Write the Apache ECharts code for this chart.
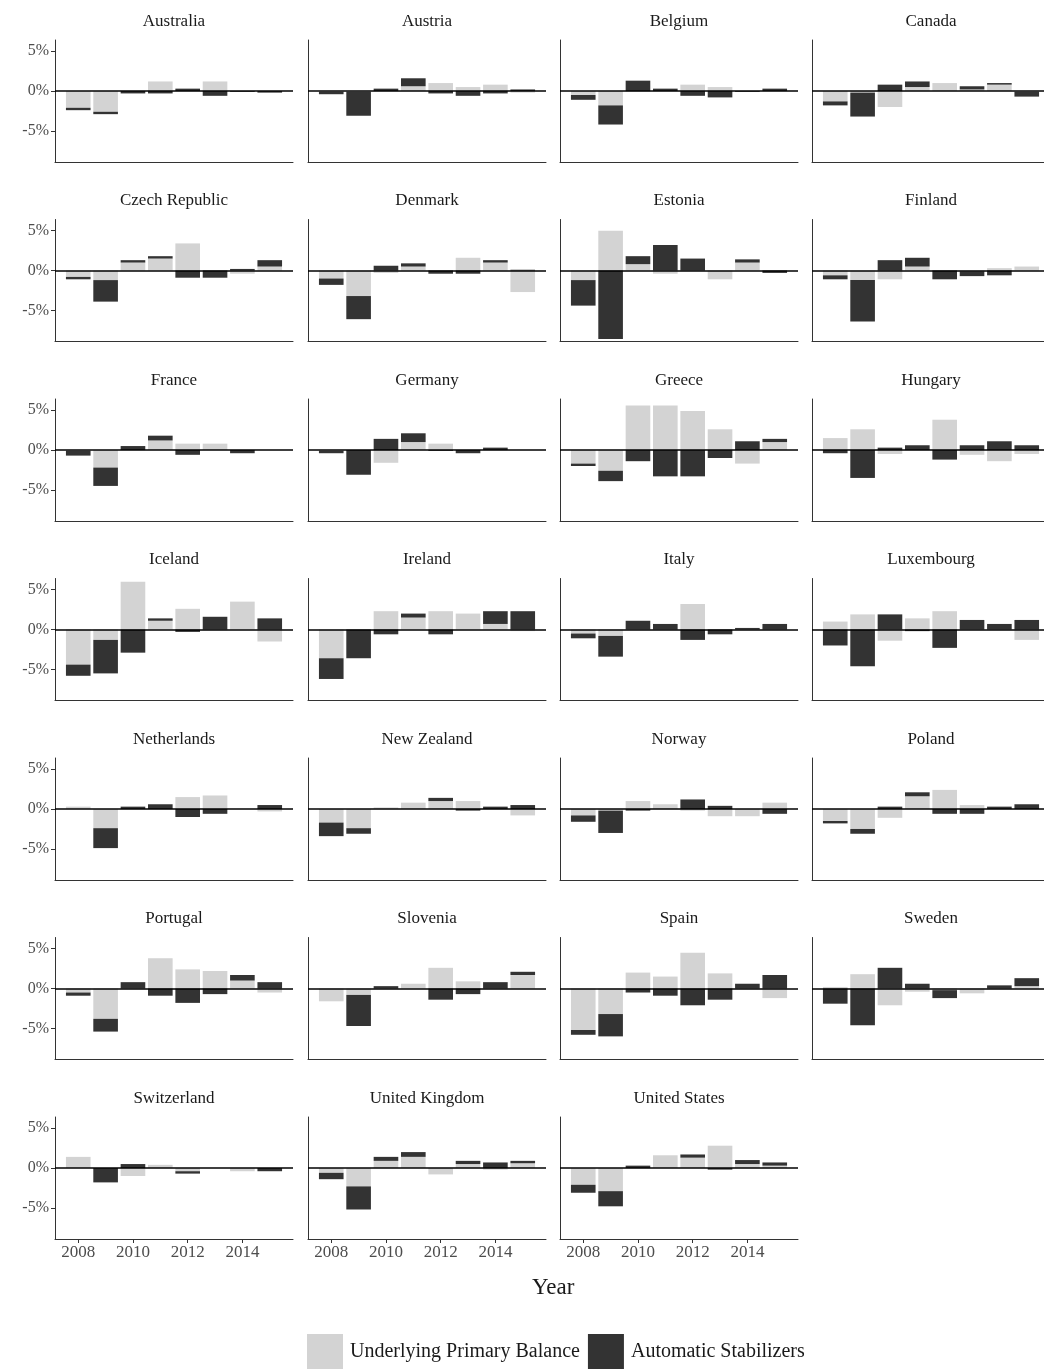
<!DOCTYPE html>
<html>
<head>
<meta charset="utf-8">
<script src="https://cdn.jsdelivr.net/npm/echarts@6/dist/echarts.min.js"></script>
<style>
    html, body { margin: 0; padding: 0; background: #fff; }
    #chart { width: 1044px; height: 1369px; }
</style>
</head>
<body>
<div id="chart"></div>
<script>
const years = [2008, 2009, 2010, 2011, 2012, 2013, 2014, 2015]
const xTicks = [2008, 2010, 2012, 2014]
const yTicks = [-5, 0, 5]

const countries = [
    "Australia", "Austria", "Belgium", "Canada",
    "Czech Republic", "Denmark", "Estonia", "Finland",
    "France", "Germany", "Greece", "Hungary",
    "Iceland", "Ireland", "Italy", "Luxembourg",
    "Netherlands", "New Zealand", "Norway", "Poland",
    "Portugal", "Slovenia", "Spain", "Sweden",
    "Switzerland", "United Kingdom", "United States",
]

// underlying primary balance, % of GDP
const underlying = [
    [-2.1, -2.6, 0, 1.2, 0, 1.2, 0, 0],
    [-0.1, -0.1, 0, 0.6, 1.0, 0.5, 0.8, -0.2],
    [-0.5, -1.8, -0.1, 0, 0.8, 0.5, 0, 0],
    [-1.3, -0.2, -2.0, 0.5, 1.0, 0.2, 0.8, -0.1],
    [-0.8, -1.2, 1.0, 1.5, 3.4, 0, -0.4, 0.5],
    [-1.0, -3.2, -0.3, 0.5, 0, 1.6, 1.0, -2.7],
    [-1.2, 5.0, 0.8, -0.4, 0, -1.1, 1.0, 0],
    [-0.6, -1.2, -1.1, 0.5, 0, -0.1, 0.3, 0.5],
    [-0.1, -2.2, 0, 1.2, 0.8, 0.8, 0, 0],
    [-0.1, 0, -1.6, 1.0, 0.8, 0, 0, 0],
    [-1.7, -2.6, 5.6, 5.6, 4.9, 2.6, -1.7, 1.0],
    [1.5, 2.6, -0.5, 0, 3.8, -0.6, -1.4, -0.5],
    [-4.4, -1.3, 6.0, 1.1, 2.6, -0.1, 3.5, -1.5],
    [-3.6, 0, 2.3, 1.5, 2.3, 2.0, 0.7, -0.2],
    [-0.5, -0.8, 0, 0, 3.2, 0, 0, 0],
    [1.0, 1.9, -1.4, 1.4, 2.3, 0, 0, -1.3],
    [0.3, -2.4, 0, 0, 1.5, 1.7, 0, -0.3],
    [-1.7, -2.4, 0.2, 0.8, 1.0, 1.0, 0, -0.8],
    [-0.8, -0.2, 1.0, 0.6, -0.2, -0.9, -0.9, 0.8],
    [-1.5, -2.5, -1.1, 1.6, 2.4, 0.5, 0, 0],
    [-0.5, -3.8, 0, 3.8, 2.4, 2.2, 1.0, -0.5],
    [-1.6, -0.8, 0, 0.6, 2.6, 0.9, 0, 1.7],
    [-5.2, -3.2, 2.0, 1.5, 4.5, 1.9, 0, -1.2],
    [0.2, 1.8, -2.1, -0.4, -0.2, -0.6, 0, 0.3],
    [1.4, 0, -1.0, 0.4, -0.4, 0, -0.4, 0],
    [-0.6, -2.3, 0.9, 1.4, -0.8, 0.5, -0.2, 0.6],
    [-2.1, -2.9, 0, 1.6, 1.3, 2.8, 0.5, 0.3],
]

// automatic stabilizers, % of GDP
const stabilizers = [
    [-0.3, -0.3, -0.3, -0.3, 0.3, -0.6, -0.1, -0.2],
    [-0.3, -3.0, 0.3, 1.0, -0.3, -0.6, -0.3, 0.2],
    [-0.6, -2.4, 1.3, 0.3, -0.6, -0.8, -0.1, 0.3],
    [-0.5, -3.0, 0.8, 0.7, 0, 0.4, 0.2, -0.6],
    [-0.3, -2.7, 0.3, 0.3, -0.9, -0.9, 0.2, 0.8],
    [-0.8, -2.9, 0.6, 0.4, -0.4, -0.4, 0.3, 0.1],
    [-3.2, -8.6, 1.0, 3.2, 1.5, 0, 0.4, -0.3],
    [-0.5, -5.2, 1.3, 1.1, -1.1, -0.6, -0.6, 0],
    [-0.6, -2.3, 0.5, 0.6, -0.6, 0, -0.4, 0],
    [-0.3, -3.1, 1.4, 1.1, -0.1, -0.4, 0.3, 0],
    [-0.3, -1.3, -1.4, -3.3, -3.3, -1.0, 1.1, 0.4],
    [-0.4, -3.5, 0.3, 0.6, -1.2, 0.6, 1.1, 0.6],
    [-1.4, -4.2, -2.9, 0.3, -0.3, 1.6, 0, 1.4],
    [-2.6, -3.6, -0.6, 0.5, -0.6, 0, 1.6, 2.3],
    [-0.6, -2.6, 1.1, 0.7, -1.3, -0.6, 0.2, 0.7],
    [-2.0, -4.6, 1.9, -0.2, -2.3, 1.2, 0.7, 1.2],
    [0, -2.5, 0.3, 0.6, -1.0, -0.6, 0, 0.5],
    [-1.7, -0.7, 0, 0, 0.4, -0.2, 0.3, 0.5],
    [-0.8, -2.8, -0.2, 0, 1.2, 0.4, 0, -0.6],
    [-0.3, -0.6, 0.3, 0.5, -0.6, -0.6, 0.3, 0.6],
    [-0.4, -1.6, 0.8, -0.9, -1.8, -0.7, 0.7, 0.8],
    [0, -3.9, 0.3, 0, -1.4, -0.7, 0.8, 0.4],
    [-0.6, -2.8, -0.5, -0.9, -2.1, -1.4, 0.6, 1.7],
    [-1.9, -4.6, 2.6, 0.6, -1.0, 0, 0.4, 1.0],
    [0, -1.8, 0.5, 0, -0.3, 0, 0, -0.4],
    [-0.8, -2.9, 0.5, 0.6, 0, 0.4, 0.7, 0.3],
    [-1.0, -1.9, 0.3, 0, 0.4, -0.2, 0.5, 0.4],
]

const colLeft = [55, 308, 560, 812]
const panelW = 238
const panelH = 122
const rowTop = (r) => 40 + r * 179.5
const xMin = 2007.15
const xMax = 2015.85
const yMin = -8.9
const yMax = 6.4
// inner grid for the category bars so that year centres line up with the outer value axis
const pxPerYear = panelW / (xMax - xMin)
const innerLeft = (2007.5 - xMin) * pxPerYear
const innerW = 8 * pxPerYear
const serif = "Liberation Serif"
const lightGray = "#d3d3d3"
const darkGray = "#333333"

const grids = []
const xAxes = []
const yAxes = []
const titles = []
const series = []

countries.forEach((name, i) => {
    const col = i % 4
    const row = Math.floor(i / 4)
    const isBottom = row === 6
    const top = rowTop(row)
    const outer = grids.length
    grids.push({ left: colLeft[col], top: top, width: panelW, height: panelH })
    grids.push({ left: colLeft[col] + innerLeft, top: top, width: innerW, height: panelH })
    const inner = outer + 1

    // outer frame: axis lines, ticks, labels and the zero line
    xAxes.push({
        gridIndex: outer,
        type: "value",
        min: xMin,
        max: xMax,
        axisLine: { show: true, onZero: false, lineStyle: { color: "#333", width: 1 } },
        axisTick: { show: isBottom, length: 4, lineStyle: { color: "#333" }, customValues: xTicks },
        axisLabel: {
            show: isBottom,
            customValues: xTicks,
            formatter: (v) => String(v),
            color: "#4d4d4d",
            fontFamily: serif,
            fontSize: 17,
            margin: 5,
        },
        splitLine: { show: false },
    })
    yAxes.push({
        gridIndex: outer,
        type: "value",
        min: yMin,
        max: yMax,
        axisLine: { show: true, lineStyle: { color: "#333", width: 1 } },
        axisTick: { show: col === 0, length: 4, lineStyle: { color: "#333" }, customValues: yTicks },
        axisLabel: {
            show: col === 0,
            customValues: yTicks,
            formatter: (v) => v + "%",
            color: "#4d4d4d",
            fontFamily: serif,
            fontSize: 16,
            margin: 6,
        },
        splitLine: { show: false },
    })

    // inner bars
    xAxes.push({
        gridIndex: inner,
        type: "category",
        data: years.map(String),
        show: false,
    })
    yAxes.push({
        gridIndex: inner,
        type: "value",
        min: yMin,
        max: yMax,
        show: false,
        splitLine: { show: false },
    })

    titles.push({
        text: name,
        left: colLeft[col] + panelW / 2 - 5,
        top: top - 32,
        textAlign: "center",
        textStyle: { fontFamily: serif, fontSize: 17, fontWeight: "normal", color: "#1a1a1a" },
    })

    series.push({
        name: "Underlying Primary Balance",
        type: "bar",
        xAxisIndex: inner,
        yAxisIndex: inner,
        stack: "c" + i,
        barWidth: "90%",
        itemStyle: { color: lightGray },
        data: underlying[i],
    })
    series.push({
        name: "Automatic Stabilizers",
        type: "bar",
        xAxisIndex: inner,
        yAxisIndex: inner,
        stack: "c" + i,
        barWidth: "90%",
        itemStyle: { color: darkGray },
        data: stabilizers[i],
    })
    series.push({
        type: "line",
        xAxisIndex: outer,
        yAxisIndex: outer,
        data: [],
        z: 5,
        markLine: {
            silent: true,
            symbol: "none",
            label: { show: false },
            lineStyle: { color: "#000", width: 1.5, type: "solid" },
            data: [{ yAxis: 0 }],
        },
    })
})

const chart = echarts.init(document.getElementById("chart"))
chart.setOption({
    animation: false,
    backgroundColor: "#fff",
    title: titles,
    grid: grids,
    xAxis: xAxes,
    yAxis: yAxes,
    series: series,
    legend: {
        data: ["Underlying Primary Balance", "Automatic Stabilizers"],
        left: 302,
        top: 1329,
        itemWidth: 36,
        itemHeight: 35,
        itemGap: 8,
        icon: "rect",
        textStyle: { fontFamily: serif, fontSize: 20, color: "#1a1a1a", padding: [0, 0, 0, 2] },
    },
    graphic: [{
        type: "text",
        left: 532,
        top: 1276,
        style: { text: "Year", font: "23px 'Liberation Serif'", fill: "#1a1a1a" },
    }],
})
</script>
</body>
</html>
